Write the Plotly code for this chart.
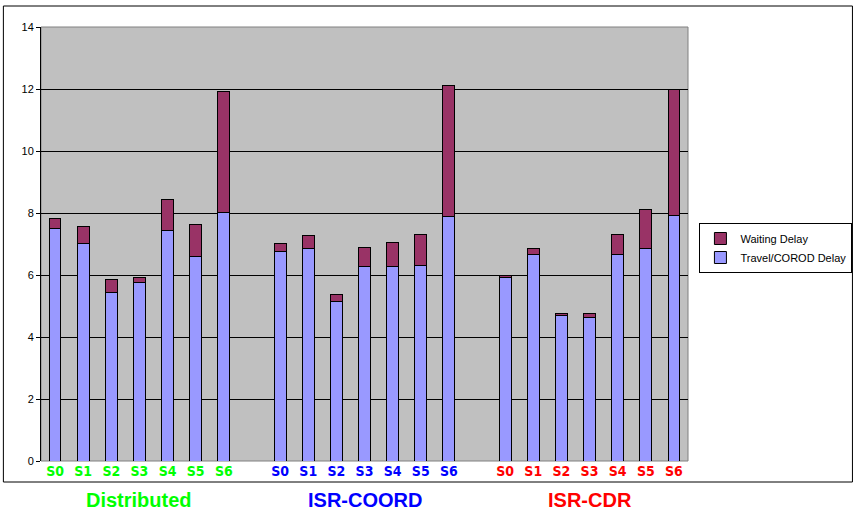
import plotly.graph_objects as go

# ---- data ----
stations = ["S0", "S1", "S2", "S3", "S4", "S5", "S6"]
groups = ["Distributed", "ISR-COORD", "ISR-CDR"]
group_colors = ["#00FF00", "#0000FF", "#FF0000"]

travel_distributed = [7.50, 7.01, 5.43, 5.75, 7.43, 6.61, 8.03]
total_distributed = [7.83, 7.58, 5.84, 5.93, 8.44, 7.62, 11.92]
travel_coord = [6.77, 6.86, 5.14, 6.28, 6.28, 6.32, 7.90]
total_coord = [7.02, 7.27, 5.37, 6.90, 7.06, 7.31, 12.12]
travel_cdr = [5.91, 6.65, 4.70, 4.62, 6.65, 6.86, 7.91]
total_cdr = [5.99, 6.87, 4.75, 4.75, 7.31, 8.12, 11.98]

y_ticks = [0, 2, 4, 6, 8, 10, 12, 14]

# ---- build positions (one empty slot between groups) ----
travel_sets = [travel_distributed, travel_coord, travel_cdr]
total_sets = [total_distributed, total_coord, total_cdr]
xs, travel, waiting, tickvals, ticktext, group_centers = [], [], [], [], [], []
for g, (tr, tot) in enumerate(zip(travel_sets, total_sets)):
    base = g * (len(stations) + 1)
    for i, s in enumerate(stations):
        xs.append(base + i)
        travel.append(tr[i])
        waiting.append(round(tot[i] - tr[i], 3))
        tickvals.append(base + i)
        ticktext.append(f"<span style='color:{group_colors[g]}'><b>{s}</b></span>")
    group_centers.append(base + (len(stations) - 1) / 2)

fig = go.Figure()
fig.add_trace(go.Bar(x=xs, y=travel, name="Travel/COROD Delay",
                     marker=dict(color="#9999FF", line=dict(color="#000000", width=1))))
fig.add_trace(go.Bar(x=xs, y=waiting, name="Waiting Delay",
                     marker=dict(color="#993366", line=dict(color="#000000", width=1))))

W, H = 864, 519
K = W / 856.0  # horizontal compensation
L, R, T, B = round(41 * K), round(W - 688 * K), 27, 58
pw, ph = W - L - R, H - T - B

def px(x):
    return (x * K - L) / pw

def py(y):
    return (H - B - y) / ph

narrow = "Liberation Sans Narrow, DejaVu Sans Condensed, Liberation Sans, Arial, sans-serif"

annotations = []
for g, name in enumerate(groups):
    annotations.append(dict(x=group_centers[g], xref="x", y=py(500), yref="paper",
                            yanchor="middle", xanchor="center",
                            text=f"<b>{name}</b>", showarrow=False,
                            font=dict(family="Liberation Sans, Arial, sans-serif",
                                      size=20, color=group_colors[g])))

fig.update_layout(
    width=W, height=H, autosize=False,
    margin=dict(l=L, r=R, t=T, b=B),
    barmode="stack", bargap=0.58,
    plot_bgcolor="#C0C0C0", paper_bgcolor="#FFFFFF",
    font=dict(family="Liberation Sans, Arial, sans-serif", size=11, color="#000000"),
    xaxis=dict(range=[-0.5, xs[-1] + 0.5], tickmode="array", tickvals=tickvals,
               ticktext=ticktext, tickfont=dict(family=narrow, size=14),
               showgrid=False, zeroline=False, showline=False, ticks=""),
    yaxis=dict(range=[0, 14], tickmode="array", tickvals=y_ticks,
               showgrid=True, gridcolor="#000000", gridwidth=1,
               zeroline=False, showline=True, linecolor="#000000", linewidth=1,
               ticks="outside", ticklen=4, tickcolor="#000000",
               tickfont=dict(size=11)),
    legend=dict(x=px(699), y=py(223), xanchor="left", yanchor="top",
                traceorder="reversed", bordercolor="#000000", borderwidth=1,
                bgcolor="#FFFFFF", font=dict(size=11), itemwidth=30,
                tracegroupgap=0),
    annotations=annotations,
    shapes=[
        dict(type="rect", xref="paper", yref="paper", x0=0, x1=1, y0=0, y1=1,
             line=dict(color="#808080", width=1), layer="below"),
        dict(type="rect", xref="paper", yref="paper", x0=px(3), x1=px(852),
             y0=py(482), y1=py(6), line=dict(color="#000000", width=1)),
    ],
    showlegend=True,
)

fig.write_html(
    "out.html",
    config={"displayModeBar": False, "responsive": False},
    post_script="document.body.style.margin='0px';document.body.style.overflow='hidden';",
)
